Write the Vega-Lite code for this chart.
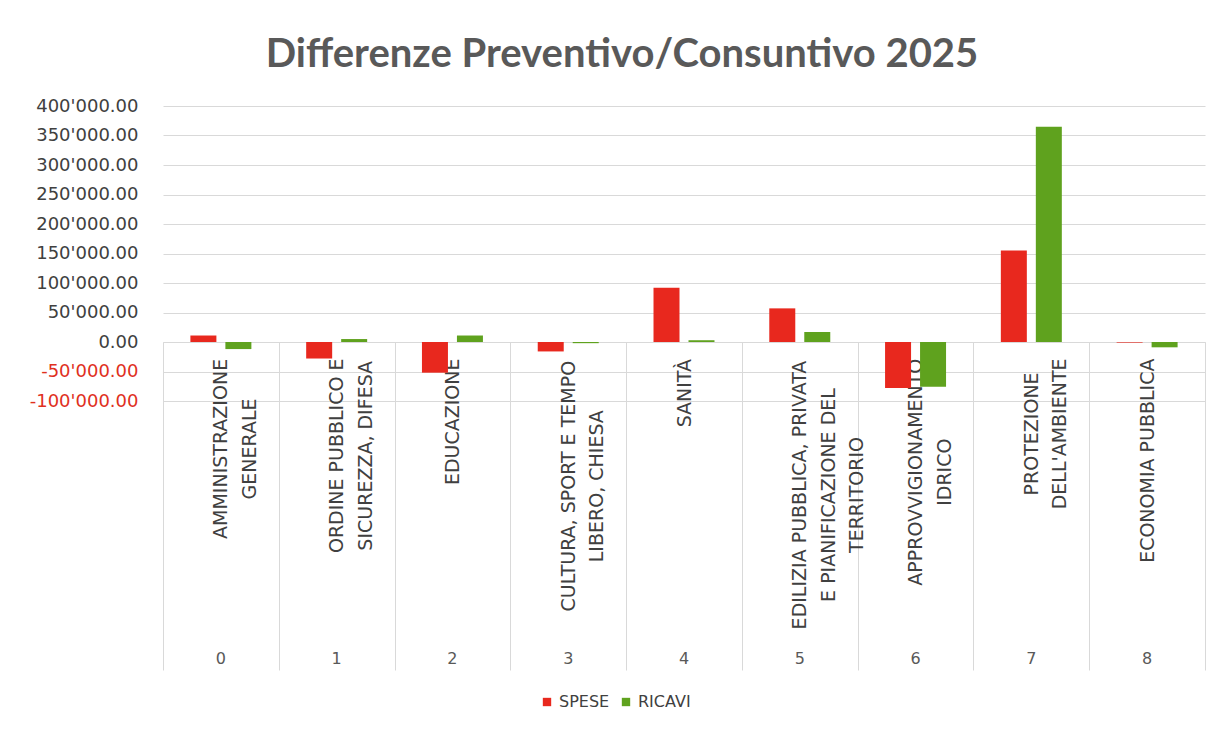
{
  "$schema": "https://vega.github.io/schema/vega-lite/v6.json",
  "autosize": {"type": "none"},
  "width": 1042,
  "height": 295,
  "padding": {"left": 163, "top": 106, "right": 18, "bottom": 330},
  "background": "white",
  "title": {
    "text": "Differenze Preventivo/Consuntivo 2025",
    "font": "Lato",
    "fontSize": 40,
    "fontWeight": "bold",
    "color": "#595959",
    "anchor": "middle",
    "dx": -62,
    "baseline": "alphabetic",
    "offset": -10
  },
  "data": {
    "values": [
      {"key": "0|AMMINISTRAZIONE|GENERALE", "serie": "SPESE", "valore": 11000},
      {"key": "0|AMMINISTRAZIONE|GENERALE", "serie": "RICAVI", "valore": -12000},
      {"key": "1|ORDINE PUBBLICO E|SICUREZZA, DIFESA", "serie": "SPESE", "valore": -28000},
      {"key": "1|ORDINE PUBBLICO E|SICUREZZA, DIFESA", "serie": "RICAVI", "valore": 5000},
      {"key": "2|EDUCAZIONE", "serie": "SPESE", "valore": -52000},
      {"key": "2|EDUCAZIONE", "serie": "RICAVI", "valore": 11000},
      {"key": "3|CULTURA, SPORT E TEMPO|LIBERO, CHIESA", "serie": "SPESE", "valore": -16000},
      {"key": "3|CULTURA, SPORT E TEMPO|LIBERO, CHIESA", "serie": "RICAVI", "valore": -2000},
      {"key": "4|SANITÀ", "serie": "SPESE", "valore": 92000},
      {"key": "4|SANITÀ", "serie": "RICAVI", "valore": 3000},
      {"key": "5|EDILIZIA PUBBLICA, PRIVATA|E PIANIFICAZIONE DEL|TERRITORIO", "serie": "SPESE", "valore": 57000},
      {"key": "5|EDILIZIA PUBBLICA, PRIVATA|E PIANIFICAZIONE DEL|TERRITORIO", "serie": "RICAVI", "valore": 17000},
      {"key": "6|APPROVVIGIONAMENTO|IDRICO", "serie": "SPESE", "valore": -78000},
      {"key": "6|APPROVVIGIONAMENTO|IDRICO", "serie": "RICAVI", "valore": -76000},
      {"key": "7|PROTEZIONE|DELL'AMBIENTE", "serie": "SPESE", "valore": 155000},
      {"key": "7|PROTEZIONE|DELL'AMBIENTE", "serie": "RICAVI", "valore": 365000},
      {"key": "8|ECONOMIA PUBBLICA", "serie": "SPESE", "valore": -1000},
      {"key": "8|ECONOMIA PUBBLICA", "serie": "RICAVI", "valore": -9000}
    ]
  },
  "encoding": {
    "x": {
      "field": "key",
      "type": "nominal",
      "sort": "ascending",
      "scale": {"paddingInner": 0, "paddingOuter": 0}
    },
    "xOffset": {
      "field": "serie",
      "type": "nominal",
      "sort": ["SPESE", "RICAVI"],
      "scale": {"domain": ["SPESE", "RICAVI"], "paddingInner": 0.257, "paddingOuter": 0.783}
    },
    "y": {
      "field": "valore",
      "type": "quantitative",
      "scale": {"domain": [-100000, 400000], "nice": false, "zero": true},
      "axis": {
        "title": null,
        "values": [-100000, -50000, 0, 50000, 100000, 150000, 200000, 250000, 300000, 350000, 400000],
        "ticks": false,
        "domain": false,
        "labelExpr": "replace(replace(format(datum.value, ',.2f'), ',', \"'\"), '\u2212', '-')",
        "labelFont": "DejaVu Sans",
        "labelFontSize": 18,
        "labelColor": {"condition": {"test": "datum.value < 0", "value": "#E0301E"}, "value": "#404040"},
        "labelPadding": 25,
        "gridColor": "#d9d9d9",
        "gridWidth": 1
      }
    }
  },
  "layer": [
    {
      "mark": {"type": "bar"},
      "encoding": {
        "x": {
          "field": "key",
          "type": "nominal",
          "axis": {
            "orient": "bottom",
            "title": null,
            "offset": -59,
            "zindex": 0,
            "labelAngle": -90,
            "labelAlign": "center",
            "labelBaseline": "middle",
            "labelPadding": {
              "condition": [
                {"test": "substring(datum.value, 0, 1) == '0'", "value": -221.6},
                {"test": "substring(datum.value, 0, 1) == '1'", "value": -214.7},
                {"test": "substring(datum.value, 0, 1) == '2'", "value": -248.7},
                {"test": "substring(datum.value, 0, 1) == '3'", "value": -184.3},
                {"test": "substring(datum.value, 0, 1) == '4'", "value": -277.3},
                {"test": "substring(datum.value, 0, 1) == '5'", "value": -175.5},
                {"test": "substring(datum.value, 0, 1) == '6'", "value": -198.3},
                {"test": "substring(datum.value, 0, 1) == '7'", "value": -236.6}
              ],
              "value": -209.8
            },
            "labelLimit": 0,
            "labelExpr": "slice(split(datum.value, '|'), 1)",
            "labelFont": "DejaVu Sans",
            "labelFontSize": 19,
            "labelLineHeight": 28.5,
            "labelColor": "#404040",
            "tickBand": "extent",
            "tickSize": 328,
            "tickColor": "#d9d9d9",
            "tickWidth": 1,
            "domainColor": "#d9d9d9",
            "grid": false
          }
        },
        "color": {
          "field": "serie",
          "type": "nominal",
          "scale": {"domain": ["SPESE", "RICAVI"], "range": ["#E8281E", "#5FA21E"]},
          "legend": {
            "title": null,
            "orient": "none",
            "legendX": 376,
            "legendY": 588,
            "direction": "horizontal",
            "symbolType": "square",
            "symbolSize": 70,
            "symbolStrokeWidth": 0,
            "labelFont": "DejaVu Sans",
            "labelFontSize": 16,
            "labelColor": "#404040",
            "columnPadding": 8,
            "labelOffset": 4
          }
        }
      }
    },
    {
      "mark": {"type": "bar", "opacity": 0},
      "encoding": {
        "x": {
          "field": "key",
          "type": "nominal",
          "axis": {
            "orient": "bottom",
            "title": null,
            "offset": 247,
            "labelAngle": 0,
            "labelAlign": "center",
            "labelBaseline": "top",
            "labelPadding": 2,
            "labelExpr": "split(datum.value, '|')[0]",
            "labelFont": "DejaVu Sans",
            "labelFontSize": 16,
            "labelColor": "#595959",
            "ticks": false,
            "domain": false,
            "grid": false
          }
        }
      }
    }
  ],
  "resolve": {"axis": {"x": "independent"}},
  "config": {"view": {"stroke": null}}
}
